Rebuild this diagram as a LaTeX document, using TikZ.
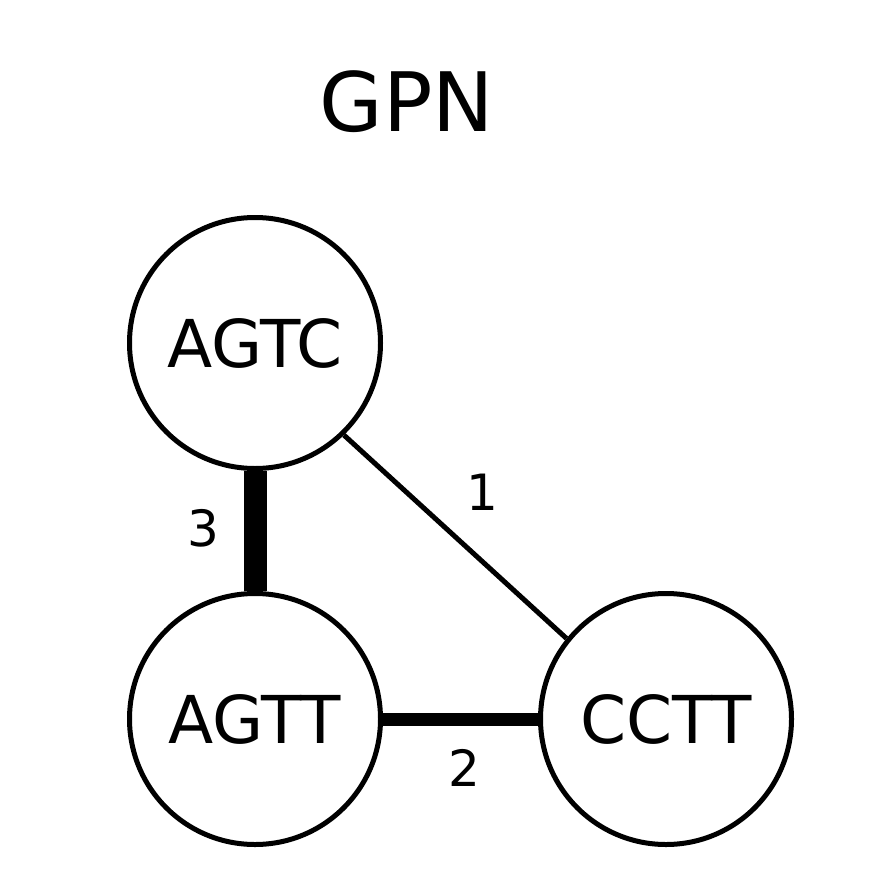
\documentclass[tikz,border=0pt]{standalone}
\usepackage{fontspec}
\setmainfont{DejaVu Sans}
\tikzset{
  seq/.style={draw, circle, line width=5pt, minimum size=251pt, inner sep=0pt,
    font=\fontsize{66}{66}\selectfont},
  weight/.style={inner sep=0pt, font=\fontsize{50}{50}\selectfont},
}
\begin{document}
\begin{tikzpicture}[x=1pt,y=-1pt]
      \useasboundingbox (0,0) rectangle (870,880);
      \node [font=\fontsize{82}{82}\selectfont] (title) at (407,102) {GPN};
      % sequences
      \node [seq] (agtc) at (255,343) {AGTC};
      \node [seq] (agtt) at (255,719) {AGTT};
      \node [seq] (cctt) at (666,719) {CCTT};
      % weights
      \node [weight] (w1) at (482,492) {1};
      \node [weight] (w2) at (464,768) {2};
      \node [weight] (w3) at (203,528) {3};

      % links
      \draw [line width=5pt] (agtc.-46) -- (cctt.141);
      \draw [line width=13pt] (agtt) -- (cctt);
      \draw [line width=23pt] (agtc) -- (agtt);
    \end{tikzpicture}
\end{document}
